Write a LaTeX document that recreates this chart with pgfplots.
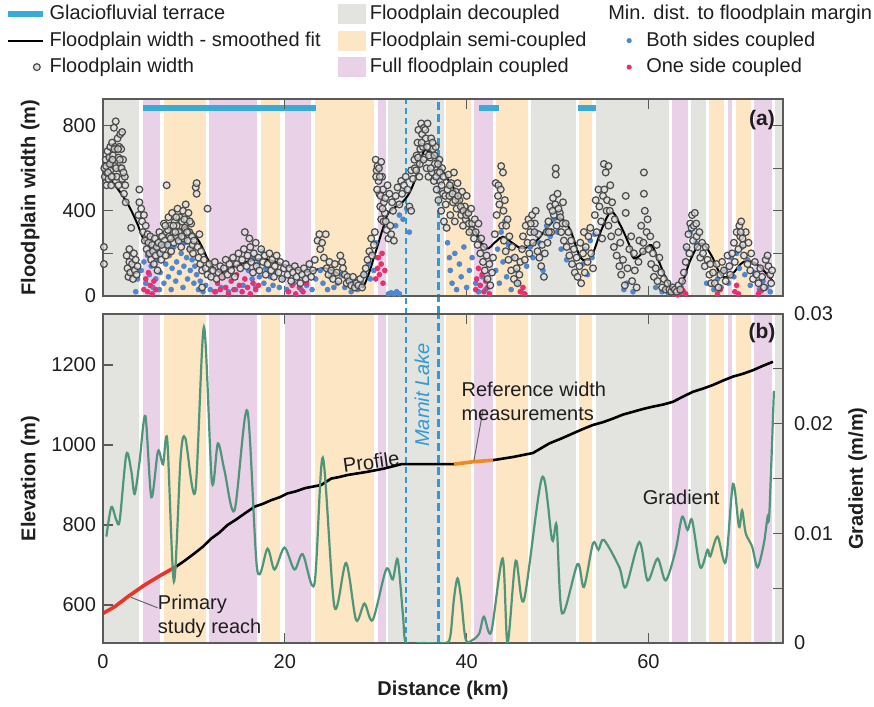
\documentclass[border=0pt]{standalone}
\usepackage{fontspec}
\setmainfont{Liberation Sans}
\usepackage{pgfplots}
\pgfplotsset{compat=1.18}

\definecolor{cgrey}{HTML}{E3E3DF}
\definecolor{csemi}{HTML}{FCE6C3}
\definecolor{cfull}{HTML}{E9D1E8}
\definecolor{terrace}{HTML}{3AABD9}
\definecolor{mamit}{HTML}{2E9BD6}
\definecolor{bothc}{HTML}{4F86CF}
\definecolor{onec}{HTML}{E8306F}
\definecolor{circ}{HTML}{4A4A4A}
\definecolor{gradc}{HTML}{4F957A}
\definecolor{reach}{HTML}{E8352A}
\definecolor{refc}{HTML}{F08A24}
\definecolor{axisgrey}{HTML}{5A5A5A}
\definecolor{txt}{HTML}{1E1E1E}

% one background band between #2 and #3 km
\newcommand{\band}[3]{\addplot[fill=#1, draw=none, forget plot] coordinates {(#2,\bandlo) (#2,\bandhi) (#3,\bandhi) (#3,\bandlo)} --cycle;}
\newcommand{\allbands}{%
  \band{cgrey}{0}{4.0}\band{cgrey}{31.4}{37.5}\band{cgrey}{47.1}{52.0}
  \band{cgrey}{54.2}{62.3}\band{cgrey}{64.7}{66.3}\band{cgrey}{73.9}{74.8}
  \band{cfull}{4.4}{6.3}\band{cfull}{11.65}{16.9}\band{cfull}{20.0}{22.9}
  \band{cfull}{30.2}{31.1}\band{cfull}{40.8}{42.9}\band{cfull}{62.6}{64.3}
  \band{cfull}{68.7}{69.2}\band{cfull}{71.6}{73.6}
  \band{csemi}{6.7}{11.3}\band{csemi}{17.4}{19.5}\band{csemi}{23.3}{29.8}
  \band{csemi}{37.7}{40.5}\band{csemi}{43.2}{46.7}\band{csemi}{52.4}{53.8}
  \band{csemi}{66.7}{68.3}\band{csemi}{69.6}{71.3}}

\newcommand{\fs}{\fontsize{10}{12}\selectfont}

\pgfplotsset{
  base/.style={
    scale only axis, width=340pt, xmin=0, xmax=74.8,
    axis line style={draw=axisgrey, line width=0.6pt},
    tick style={draw=axisgrey, line width=0.6pt},
    tick align=inside, major tick length=5pt,
    tick label style={font=\fs, text=txt},
    label style={font=\fs\bfseries, text=txt},
    axis on top, scaled ticks=false,
  },
  dotleg/.style={legend image code/.code={%
    \path[draw=none, fill=none] (0cm,0cm) -- (0.68cm,0cm);
    \fill[#1, draw=none] (0.45cm,0cm) circle (1.3pt);}},
}

\begin{document}
\begin{tikzpicture}[font=\fs]
\useasboundingbox (0,0) rectangle (437pt,353.5pt);

% ---------------- panel (a)
\def\bandlo{0}\def\bandhi{925}
\begin{axis}[base, at={(51.5pt,205.5pt)}, anchor=south west, height=98.5pt,
  ymin=0, ymax=925, clip=false,
  xtick={0,20,40,60}, xticklabels={}, xtick pos=both,
  ytick={0,200,400,600,800}, yticklabels={0,,400,,800}, ytick pos=both,
  ylabel={Floodplain width (m)},
  ylabel style={at={(axis description cs:-0.107,0.5)}, anchor=center},
  legend columns=3,
  legend cell align=left,
  legend style={at={(axis description cs:0,1)}, anchor=north west,
    xshift=-49pt, yshift=49pt, draw=none, fill=none, inner sep=0pt,
    font=\fs, text=txt, row sep=0.5pt,
    /tikz/every even column/.append style={column sep=6.5pt}},
]
\allbands
% glaciofluvial terraces
\addplot[terrace, line width=3pt, forget plot] coordinates {(4.4,882) (23.4,882)};
\addplot[terrace, line width=3pt, forget plot] coordinates {(41.4,882) (43.6,882)};
\addplot[terrace, line width=3pt, forget plot] coordinates {(52.2,882) (54.2,882)};
% Mamit Lake
\addplot[color=mamit, line width=0.9pt, dash pattern=on 3pt off 2pt, forget plot] coordinates {(33.3,-85) (33.3,925)};
\addplot[color=mamit, line width=1.1pt, dash pattern=on 4pt off 2pt, forget plot] coordinates {(36.9,-85) (36.9,925)};

% both sides coupled
\addplot[only marks, mark=*, mark size=1.2pt, color=bothc, forget plot] coordinates {
(3.6,20)(3.8,80)(4.2,120)(4.5,160)(4.7,60)(4.9,190)(5.1,100)(5.3,140)(5.5,40)(5.7,220)(5.8,80)(6.0,170)
(6.2,30)(6.3,110)(6.5,200)(6.7,60)(6.9,150)(7.0,240)(7.2,90)(7.3,190)(7.5,30)(7.6,130)(7.8,230)(8.0,70)
(8.1,160)(8.3,270)(8.4,110)(8.6,200)(8.8,40)(8.9,140)(9.0,250)(9.2,180)(9.3,80)(9.5,220)(9.6,120)(9.8,170)
(10.0,60)(10.1,140)(10.3,100)(10.5,30)(10.7,70)(11.0,20)(11.3,50)(11.8,30)(12.4,20)(13.0,40)(13.8,20)
(14.6,30)(15.4,50)(16.0,120)(16.4,80)(16.6,180)(16.8,40)(17.0,150)(17.2,90)(17.5,210)(17.7,60)(17.9,130)
(18.2,30)(18.4,90)(18.7,50)(19.0,110)(19.4,40)(19.8,80)(20.2,30)(21.0,60)(21.8,30)(22.4,50)(23.0,30)
(23.4,80)(23.9,120)(24.2,60)(24.7,30)(25.0,90)(25.4,40)(25.8,60)(26.2,100)(26.6,40)(27.0,70)(27.3,20)
(27.6,50)(28.0,30)(28.4,60)(28.8,100)(29.2,150)(29.4,80)(29.6,200)(29.8,120)(30.0,250)(30.2,180)
(31.4,10)(31.7,15)(32.0,10)(32.3,20)(32.6,10)(32.2,330)(32.6,380)(33.0,360)(33.4,410)(33.7,300)
(37.9,250)(38.1,180)(38.2,120)(38.4,60)(38.7,200)(38.9,30)(39.2,150)(39.4,90)(39.7,230)(40.0,40)
(40.3,120)(40.6,180)(41.0,60)(41.3,20)(41.7,90)(42.1,30)(43.2,120)(43.4,220)(43.6,60)(43.8,300)
(44.0,160)(44.2,350)(44.4,90)(44.6,240)(44.9,30)(45.1,180)(45.4,120)(45.7,60)(46.0,20)(46.6,140)
(47.0,230)(47.3,180)(47.6,300)(48.0,250)(48.4,120)(48.8,330)(49.2,280)(49.6,360)(50.0,300)(50.4,220)
(51.0,170)(52.8,150)(53.0,220)(53.3,100)(53.6,260)(53.8,180)(54.1,290)(57.3,30)(57.6,60)(58.3,20)
(60.8,40)(61.5,20)(62.2,15)(62.6,30)(63.0,20)(63.6,40)(64.2,220)(64.6,300)(65.2,250)(66.4,60)(67.2,30)
(67.6,80)(68.0,40)(68.4,120)(68.8,60)(69.1,180)(69.4,90)(69.7,200)(70.0,130)(70.3,230)(70.6,100)
(70.9,170)(71.2,50)(71.6,110)(72.2,30)(72.6,70)(73.0,40)(73.4,20)};
% one side coupled
\addplot[only marks, mark=*, mark size=1.2pt, color=onec, forget plot] coordinates {
(4.5,30)(4.7,80)(4.9,20)(5.0,110)(5.2,50)(5.4,10)(5.6,70)(5.8,30)(12.3,20)(12.6,60)(12.9,30)(13.2,90)
(13.5,40)(13.8,10)(14.1,70)(14.4,30)(14.7,100)(15.0,50)(15.3,20)(15.6,80)(15.9,40)(16.2,10)(16.5,60)
(16.8,30)(17.1,50)(20.4,20)(20.8,50)(21.2,10)(21.6,40)(22.0,20)(22.4,60)(30.0,80)(30.2,130)(30.3,180)
(30.4,100)(30.6,150)(30.7,200)(30.8,60)(31.0,120)(41.0,30)(41.1,80)(41.3,130)(41.5,50)(41.7,100)
(41.9,20)(42.1,70)(42.3,40)(42.5,10)(45.9,20)(46.2,40)(46.4,10)(62.6,10)(62.9,20)(63.2,5)(63.5,15)
(63.8,25)(64.1,10)(67.6,10)(67.9,30)(69.5,20)(69.7,50)(69.9,10)(72.1,10)(72.4,25)};
% floodplain width
\addplot[only marks, mark=*, mark size=1.7pt, draw=circ, fill=black!12, fill opacity=0.7, line width=0.6pt, forget plot] coordinates {
(0.1,150)(0.1,230)(0.2,560)(0.2,600)(0.3,640)(0.4,520)(0.4,580)(0.5,680)(0.6,610)(0.6,550)(0.7,650)(0.8,700)(0.8,590)(0.9,520)(0.9,630)
(1.0,720)(1.1,560)(1.1,660)(1.2,790)(1.3,700)(1.3,610)(1.4,820)(1.5,690)(1.5,560)(1.6,740)(1.7,650)(1.7,520)(1.8,700)(1.9,760)(1.9,600)
(2.0,690)(2.1,550)(2.1,770)(2.2,640)(2.3,480)(2.4,560)(2.5,440)(2.6,190)(2.7,130)(2.8,90)(2.9,160)(2.9,220)
(0.15,600)(0.35,610)(0.55,580)(0.75,620)(0.95,560)(1.05,640)(1.25,690)(1.45,600)(1.65,690)(1.85,640)(2.05,600)(2.25,580)(2.45,520)
(3.0,110)(3.1,320)(3.2,150)(3.3,80)(3.4,200)(3.5,120)(3.6,170)(3.7,100)(3.8,140)(3.9,380)(4.0,440)(4.0,500)
(4.2,410)(4.3,350)(4.4,300)(4.5,380)(4.6,260)(4.7,330)(4.8,220)(4.9,290)(5.0,250)
(5.1,200)(5.2,280)(5.3,170)(5.4,240)(5.5,210)(5.6,150)(5.7,270)(5.8,190)(5.9,230)(6.0,120)
(6.1,250)(6.2,300)(6.3,200)(6.4,170)(6.5,280)(6.6,220)(6.7,340)(6.8,260)(6.9,190)(7.0,520)(7.0,300)
(7.1,240)(7.2,370)(7.3,280)(7.4,330)(7.5,210)(7.6,390)(7.7,300)(7.8,250)(7.9,350)
(8.0,280)(8.1,330)(8.2,410)(8.3,260)(8.4,370)(8.5,300)(8.6,230)(8.7,350)(8.8,400)(8.9,270)
(9.0,320)(9.1,430)(9.2,360)(9.3,260)(9.4,390)(9.5,300)(9.6,220)(9.7,340)(9.8,280)(9.9,200)
(7.15,310)(7.45,270)(7.75,330)(8.05,370)(8.35,300)(8.65,280)(8.95,360)(9.25,300)(9.55,350)(9.85,240)(6.45,240)(6.85,330)(7.95,300)
(10.0,260)(10.2,510)(10.3,530)(10.3,480)(10.4,230)(10.5,180)(10.6,290)(10.7,150)(10.8,210)(10.9,120)(10.9,40)
(11.1,170)(11.3,130)(11.5,410)(11.5,100)(11.7,150)(11.9,90)
(12.1,120)(12.3,160)(12.5,80)(12.7,110)(12.9,140)
(13.1,90)(13.3,130)(13.5,170)(13.7,100)(13.9,150)
(14.1,120)(14.3,180)(14.5,90)(14.7,150)(14.9,200)
(15.1,130)(15.3,170)(15.5,220)(15.6,300)(15.8,140)(15.9,190)
(16.1,270)(16.2,230)(16.3,160)(16.5,110)(16.6,200)(16.8,250)(16.9,140)
(17.1,180)(17.2,120)(17.4,220)(17.6,160)(17.8,190)(17.9,100)
(18.1,150)(18.3,200)(18.5,120)(18.6,170)(18.8,90)(18.9,140)
(19.1,190)(19.3,110)(19.5,160)(19.7,80)(19.9,130)
(20.1,150)(20.3,100)(20.5,130)(20.7,70)(20.9,110)
(21.1,140)(21.3,90)(21.5,120)(21.7,60)(21.9,100)
(22.1,130)(22.3,80)(22.5,110)(22.7,150)(22.9,90)
(23.1,120)(23.3,170)(23.6,260)(23.8,290)(23.9,220)
(24.1,250)(24.3,180)(24.5,290)(24.6,130)(24.8,100)(24.9,160)
(25.1,120)(25.3,80)(25.5,150)(25.7,110)(25.9,70)
(26.1,190)(26.3,160)(26.4,130)(26.6,100)(26.8,60)(26.9,90)
(27.1,70)(27.3,50)(27.5,90)(27.7,40)(27.9,60)
(28.1,50)(28.3,80)(28.5,40)(28.7,100)(28.9,130)
(29.1,170)(29.3,210)(29.5,270)(29.6,190)(29.8,240)(29.9,300)
(30.0,640)(30.1,590)(30.2,610)(30.3,540)(30.4,480)(30.5,420)(30.6,630)(30.6,360)(30.7,560)(30.8,500)(30.9,440)(31.0,390)
(30.05,560)(30.15,500)(30.35,600)(30.45,560)(30.55,470)(30.75,410)(30.85,350)(31.05,460)
(31.1,350)(31.2,310)(31.3,520)(31.4,270)(31.5,480)(31.6,330)(31.7,290)(31.8,440)(31.9,400)(32.0,260)
(32.2,470)(32.4,510)(32.6,430)(32.8,540)(32.9,480)
(33.1,520)(33.3,560)(33.5,500)(33.7,420)(33.9,400)(33.9,590)
(34.1,550)(34.3,600)(34.5,660)(34.6,720)(34.7,780)(34.8,560)(34.9,690)
(35.0,810)(35.1,760)(35.2,700)(35.3,790)(35.4,650)(35.5,740)(35.6,600)(35.7,810)(35.8,560)(35.9,700)
(36.0,650)(36.1,740)(36.2,580)(36.3,690)(36.4,540)(36.5,620)(36.6,700)(36.7,500)(36.8,580)(36.9,450)
(37.0,640)(37.1,540)(37.2,400)(37.3,600)(37.4,480)(37.5,350)(37.6,560)(37.7,430)(37.8,320)(37.9,500)
(34.25,640)(34.45,590)(34.65,650)(34.85,620)(35.05,720)(35.25,640)(35.45,780)(35.65,700)(35.85,660)
(36.05,600)(36.25,720)(36.45,660)(36.65,560)(36.85,620)(37.05,580)(37.25,520)(37.45,560)(37.65,470)
(38.0,570)(38.1,470)(38.2,380)(38.3,530)(38.5,440)(38.6,580)(38.7,350)(38.8,490)(38.9,410)
(39.0,530)(39.2,450)(39.4,380)(39.5,490)(39.6,330)(39.8,420)(39.9,360)
(38.15,520)(38.45,480)(38.75,450)(39.05,470)(39.35,420)(39.65,400)(39.95,380)(40.25,340)(40.55,310)
(40.0,470)(40.2,390)(40.3,300)(40.5,410)(40.6,340)(40.8,270)(40.9,360)
(41.0,300)(41.2,240)(41.3,340)(41.5,200)(41.6,270)(41.8,160)(41.9,230)
(42.0,120)(42.2,190)(42.3,80)(42.5,150)(42.6,50)(42.8,110)(42.9,180)
(43.1,290)(43.2,530)(43.3,380)(43.5,520)(43.6,430)(43.8,610)(43.9,330)
(44.0,580)(44.1,260)(44.2,450)(44.3,210)(44.5,360)(44.6,170)(44.7,280)(44.9,120)
(43.45,470)(43.75,500)(44.05,400)(44.35,330)
(45.0,230)(45.2,80)(45.3,180)(45.5,130)(45.6,60)(45.8,100)(45.9,160)
(46.1,220)(46.2,280)(46.4,170)(46.5,330)(46.7,250)(46.8,360)(46.9,200)
(47.0,300)(47.2,380)(47.3,250)(47.5,340)(47.6,400)(47.8,210)(47.9,290)(47.05,340)(47.45,300)
(48.0,180)(48.2,140)(48.3,240)(48.5,90)(48.6,200)(48.8,300)(48.9,250)
(49.0,350)(49.2,420)(49.3,300)(49.5,460)(49.6,380)(49.8,600)(49.8,570)(49.9,330)
(49.05,300)(49.45,400)(49.75,430)(50.25,390)(50.55,340)
(50.0,480)(50.1,410)(50.3,370)(50.4,300)(50.6,440)(50.7,260)(50.9,340)
(51.0,230)(51.2,300)(51.3,190)(51.5,260)(51.6,150)(51.8,220)(51.9,110)
(52.1,180)(52.2,90)(52.4,140)(52.5,250)(52.6,60)(52.8,200)(52.9,300)
(53.0,110)(53.1,230)(53.3,160)(53.4,280)(53.6,320)(53.7,200)(53.9,130)
(54.1,380)(54.2,450)(54.3,300)(54.5,500)(54.6,420)(54.8,350)(54.9,270)
(55.0,470)(55.1,620)(55.3,580)(55.4,400)(55.6,610)(55.6,330)(55.8,520)(55.9,280)
(55.15,500)(55.45,450)(55.75,400)
(56.0,440)(56.2,230)(56.3,360)(56.5,190)(56.7,300)(56.8,140)(56.9,250)
(57.0,100)(57.2,170)(57.4,50)(57.5,470)(57.5,390)(57.7,130)(57.9,220)
(58.1,280)(58.2,70)(58.4,200)(58.5,120)(58.7,40)(58.9,160)
(59.0,260)(59.2,330)(59.4,210)(59.5,580)(59.5,480)(59.6,400)(59.8,300)(59.9,360)(59.45,250)
(60.0,220)(60.2,280)(60.3,150)(60.5,200)(60.6,90)(60.8,130)(60.9,240)
(61.0,70)(61.2,180)(61.4,110)(61.5,40)(61.7,80)(61.9,30)
(62.1,60)(62.3,30)(62.5,20)(62.7,40)(62.9,30)
(63.1,20)(63.3,50)(63.5,30)(63.7,70)(63.9,110)
(64.1,160)(64.2,230)(64.4,290)(64.5,200)(64.6,340)(64.8,380)(64.9,260)(64.75,320)
(65.0,330)(65.1,390)(65.3,280)(65.4,230)(65.6,300)(65.7,180)(65.9,250)(65.25,340)
(66.0,200)(66.2,140)(66.3,230)(66.5,170)(66.7,100)(66.8,150)(66.9,60)
(67.1,110)(67.3,60)(67.5,150)(67.7,40)(67.9,100)
(68.1,160)(68.3,120)(68.5,70)(68.7,190)(68.9,140)
(69.0,100)(69.2,200)(69.4,250)(69.5,160)(69.7,300)(69.9,220)
(70.0,330)(70.1,280)(70.2,350)(70.4,240)(70.5,190)(70.7,300)(70.9,150)(70.15,300)(70.35,270)
(71.0,250)(71.2,120)(71.3,200)(71.5,80)(71.7,160)(71.9,100)
(72.1,60)(72.3,130)(72.5,90)(72.7,40)(72.9,170)
(73.1,190)(73.2,140)(73.4,100)(73.5,60)(73.6,120)};
% smoothed fit
\addplot[black, line width=1pt, smooth, tension=0.7, forget plot] coordinates {
(0,577)(1.1,531)(2.6,441)(3.7,347)(4.4,272)(5.1,230)(6.2,239)(7.3,254)(8.8,319)(9.5,310)(10.6,254)
(11.7,160)(12.8,113)(14.3,136)(15.8,160)(17.2,174)(18.3,169)(20.5,138)(22.4,114)(24.5,130)(26.4,91)
(28.2,44)(28.9,67)(30.0,208)(30.8,318)(31.5,396)(33.0,443)(34.1,521)(35.2,670)(35.5,685)(36.6,654)
(37.4,584)(38.8,490)(39.6,412)(41.0,302)(42.1,224)(43.2,255)(44.0,278)(45.1,247)(46.2,224)(47.6,255)
(49.1,333)(50.2,365)(51.3,318)(52.4,192)(53.1,169)(53.8,192)(54.9,318)(55.9,393)(56.8,341)(57.9,239)
(58.4,177)(59.5,208)(60.3,239)(61.0,177)(62.1,67)(62.8,36)(63.6,52)(64.7,177)(65.8,247)(66.9,192)
(68.0,99)(69.1,99)(70.5,161)(72.0,146)(73.4,83)(73.7,70)};

\node[font=\fontsize{10.5}{12}\selectfont\bfseries, text=txt] at (axis description cs:0.969,0.893) {(a)};

% legend
\addlegendimage{terrace, line width=3pt}
\addlegendentry{Glaciofluvial terrace}
\addlegendimage{legend image code/.code={\fill[cgrey, draw=none] (0pt,-5pt) rectangle (14pt,5pt);}}
\addlegendentry{Floodplain decoupled}
\addlegendimage{empty legend}
\addlegendentry{\hspace*{-19pt}Min. dist. to floodplain margin}
\addlegendimage{black, line width=1pt}
\addlegendentry{Floodplain width - smoothed fit}
\addlegendimage{legend image code/.code={\fill[csemi, draw=none] (0pt,-5pt) rectangle (14pt,5pt);}}
\addlegendentry{Floodplain semi-coupled}
\addlegendimage{dotleg=bothc}
\addlegendentry{Both sides coupled}
\addlegendimage{legend image code/.code={%
    \path[draw=none, fill=none] (0cm,0cm) -- (0.6cm,0cm);
    \filldraw[draw=circ, fill=black!12, line width=0.6pt] (0.5cm,0cm) circle (1.7pt);}}
\addlegendentry{Floodplain width}
\addlegendimage{legend image code/.code={\fill[cfull, draw=none] (0pt,-5pt) rectangle (14pt,5pt);}}
\addlegendentry{Full floodplain coupled}
\addlegendimage{dotleg=onec}
\addlegendentry{One side coupled}
\end{axis}

% ---------------- panel (b), elevation
\def\bandlo{505}\def\bandhi{1327.5}
\begin{axis}[base, at={(51.5pt,32pt)}, anchor=south west, height=164.5pt,
  ymin=505, ymax=1327.5,
  xtick={0,20,40,60}, xticklabels={0,20,40,60}, xtick pos=both, xticklabel pos=lower,
  xticklabel style={yshift=-2pt},
  ytick={600,800,1000,1200}, yticklabels={600,800,1000,1200}, ytick pos=left,
  xlabel={Distance (km)},
  xlabel style={at={(axis description cs:0.5,-0.143)}, anchor=center},
  ylabel={Elevation (m)},
  ylabel style={at={(axis description cs:-0.107,0.5)}, anchor=center},
]
\allbands
\addplot[color=mamit, line width=0.9pt, dash pattern=on 3pt off 2pt] coordinates {(33.3,505) (33.3,1327.5)};
\addplot[color=mamit, line width=1.1pt, dash pattern=on 4pt off 2pt] coordinates {(36.9,505) (36.9,1327.5)};
\addplot[black, line width=1.3pt] coordinates {
(8.05,696)(9.0,711)(10.06,729)(11.0,746)(11.9,766)(12.8,781)(13.7,800)(14.6,813)(15.6,829)(16.7,846)
(17.6,853)(18.5,862)(19.4,869)(20.3,879)(21.2,884)(22.2,892)(24.0,900)(25.1,916)(26.0,920)(26.9,925)
(29.1,933)(30.9,941)(32.8,952)(38.6,952)};
\addplot[black, line width=1.3pt] coordinates {
(42.9,962)(45.1,970)(46.2,975)(47.3,980)(48.2,992)(49.1,1004)(50.4,1016)(51.7,1029)(52.8,1040)
(53.9,1050)(55.0,1057)(56.1,1066)(57.2,1076)(58.3,1083)(59.4,1090)(60.5,1096)(61.6,1101)(62.7,1108)
(63.8,1121)(64.9,1133)(66.0,1141)(67.1,1150)(68.2,1161)(69.3,1171)(70.4,1178)(71.5,1187)(72.6,1198)(73.7,1208)};
\addplot[reach, line width=1.8pt] coordinates {(0,579)(1.3,596)(2.75,621)(4.58,650)(6.4,675)(8.05,696)};
\addplot[refc, line width=1.8pt] coordinates {(38.6,952)(40.7,958)(42.9,962)};

\draw[black!60, line width=0.5pt] (axis cs:3.1,619) -- (axis cs:6.0,593);
\draw[black!60, line width=0.5pt] (axis cs:40.8,961) -- (axis cs:41.8,1087);
\node[anchor=west, align=left, text=txt, inner sep=0pt] at (axis cs:6.0,571) {Primary\\study reach};
\node[anchor=west, align=left, text=txt, inner sep=0pt] at (axis cs:39.4,1110) {Reference width\\measurements};
\node[rotate=8, text=txt] at (axis cs:29.5,958) {Profile};
\node[rotate=90, text=mamit, font=\fs\itshape] at (axis cs:35.1,1125) {Mamit Lake};
\node[text=txt] at (axis cs:63.6,870) {Gradient};
\node[font=\fontsize{10.5}{12}\selectfont\bfseries, text=txt] at (axis description cs:0.969,0.942) {(b)};
\end{axis}

% ---------------- panel (b), gradient
\begin{axis}[base, at={(51.5pt,32pt)}, anchor=south west, height=164.5pt,
  ymin=0, ymax=0.03, axis y line*=right, axis x line=none, axis on top=false,
  ytick={0,0.005,0.01,0.015,0.02,0.025,0.03}, yticklabels={0,,0.01,,0.02,,0.03},
  yticklabel style={xshift=2pt},
  ylabel={Gradient (m/m)},
  ylabel style={at={(axis description cs:1.11,0.5)}, anchor=center},
]
\addplot[gradc, line width=1.1pt, smooth, tension=0.5] coordinates {
(0.37,0.0097)(0.92,0.0124)(1.47,0.0112)(1.84,0.0112)(2.57,0.0172)(3.11,0.0157)(3.48,0.0136)(4.03,0.0166)
(4.66,0.0207)(5.32,0.0133)(6.05,0.0175)(6.6,0.0163)(7.07,0.0185)(7.8,0.0056)(8.54,0.0169)(9.05,0.0187)
(10.15,0.0138)(11.1,0.0288)(11.98,0.0147)(12.64,0.0182)(13.37,0.0157)(14.47,0.0121)(15.87,0.0212)
(16.96,0.0067)(18.1,0.0086)(18.87,0.0067)(19.96,0.0087)(21.06,0.0067)(21.97,0.0081)(23.26,0.0054)
(24.18,0.0169)(25.46,0.0033)(26.74,0.0073)(27.84,0.0021)(28.76,0.0036)(29.67,0.0021)(31.14,0.0067)
(31.87,0.0058)(32.42,0.0076)(33.0,0.0025)(33.34,0)(35.0,0)(37.6,0)(38.2,0.0006)(38.6,0.004)
(39.0,0.0059)(39.4,0.004)(39.9,0.0003)(40.7,0.0003)(41.4,0.0009)(41.9,0.0024)(42.7,0.001)(43.96,0.0077)
(44.5,0)(45.4,0.0075)(46.3,0.0039)(48.3,0.0151)(49.4,0.0094)(49.9,0.0107)(50.5,0.0027)(52.2,0.0072)
(52.9,0.0051)(53.9,0.0091)(54.5,0.0085)(55.1,0.0094)(56.8,0.0069)(57.5,0.0051)(59.0,0.0092)(59.9,0.0057)
(61.0,0.0077)(61.9,0.0057)(63.0,0.0085)(63.7,0.0115)(64.3,0.0103)(64.8,0.0112)(65.7,0.0069)(66.5,0.0085)
(66.8,0.0079)(67.6,0.0097)(68.5,0.0074)(69.3,0.0145)(69.96,0.0106)(70.3,0.0121)(70.7,0.01)(71.4,0.0088)
(72.0,0.0069)(72.7,0.0091)(73.1,0.0115)(73.3,0.0118)(73.8,0.023)};
\end{axis}
\end{tikzpicture}
\end{document}
